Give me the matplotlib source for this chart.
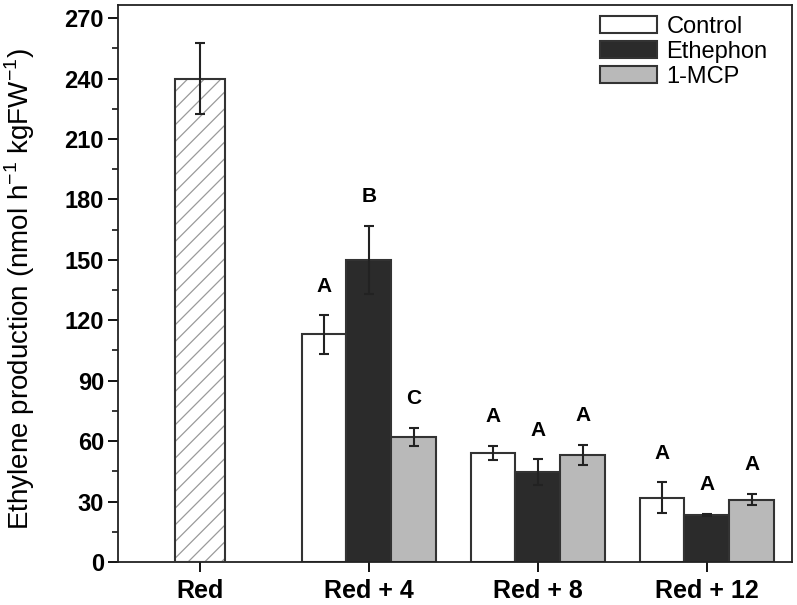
import numpy as np
import matplotlib
matplotlib.use('Agg')
import matplotlib.pyplot as plt
from matplotlib.ticker import MultipleLocator

plt.rcParams['font.family'] = ['Liberation Sans', 'DejaVu Sans']
plt.rcParams['mathtext.fontset'] = 'custom'
plt.rcParams['mathtext.rm'] = 'Liberation Sans'
plt.rcParams['hatch.linewidth'] = 0.9

#datos
categories = ['Red', 'Red + 4', 'Red + 8', 'Red + 12']
treatments = ['Control', 'Ethephon', '1-MCP']

red_value = 240
red_err = 17.5

control = [113, 54, 32]
control_err = [9.5, 3.5, 7.5]
ethephon = [150, 44.5, 23.4]
ethephon_err = [17, 6.5, 0.5]
mcp = [62, 53, 31]
mcp_err = [4.5, 5, 2.7]

letters = [['A', 'A', 'A'], ['B', 'A', 'A'], ['C', 'A', 'A']]

colors = ['white', '#2b2b2b', '#b9b9b9']
edge = '#333333'

fig = plt.figure(figsize=(7.97, 6.05), dpi=100)
ax = fig.add_axes([0.148, 0.0711, 0.8457, 0.9206])

x = np.arange(len(categories))
w = 0.266

#barra Red con rayado
ax.bar(x[0], red_value, width=0.296, color='white', edgecolor='#9a9a9a', linewidth=0,
       hatch='//', zorder=2)
ax.bar(x[0], red_value, width=0.296, color='none', edgecolor=edge, linewidth=1.5, zorder=3)
ax.errorbar(x[0], red_value, yerr=red_err, fmt='none', ecolor='#222222', elinewidth=1.5,
            capsize=3.5, capthick=1.5, zorder=4)

series = [control, ethephon, mcp]
errors = [control_err, ethephon_err, mcp_err]
gx = x[1:]
for i, (vals, errs) in enumerate(zip(series, errors)):
    pos = gx + (i - 1) * w
    ax.bar(pos, vals, width=w, color=colors[i], edgecolor=edge, linewidth=1.5,
           label=treatments[i], zorder=2)
    ax.errorbar(pos, vals, yerr=errs, fmt='none', ecolor='#222222', elinewidth=1.5,
                capsize=3.5, capthick=1.5, zorder=4)
    for p, v, e, t in zip(pos, vals, errs, letters[i]):
        ax.text(p, v + e + 14.5, t, ha='center', va='center', fontsize=15,
                fontweight='bold', zorder=5)

ax.set_xlim(-0.485, 3.503)
ax.set_ylim(0, 276.5)
ax.yaxis.set_major_locator(MultipleLocator(30))
ax.yaxis.set_minor_locator(MultipleLocator(15))
ax.set_xticks(x)
ax.set_xticklabels(categories, fontsize=18, fontweight='bold')
for lab in ax.get_yticklabels():
    lab.set_fontweight('bold')
    lab.set_fontsize(17)
ax.tick_params(axis='y', which='major', direction='out', length=7, width=1.3, pad=3)
ax.tick_params(axis='y', which='minor', direction='out', length=4, width=1.1)
ax.tick_params(axis='x', which='major', direction='out', length=7, width=1.3, pad=5)

for s in ax.spines.values():
    s.set_linewidth(1.3)
    s.set_color('#222222')

ax.set_ylabel(r'Ethylene production (nmol h$^{-1}$ kgFW$^{-1}$)', fontsize=20)
ax.yaxis.set_label_coords(-0.12, 0.49)

ax.legend(loc='upper right', frameon=False, fontsize=17, handlelength=2.4,
          handleheight=0.75, handletextpad=0.4, labelspacing=0.12,
          bbox_to_anchor=(0.99, 1.012), borderaxespad=0.35)

fig.savefig('out.png', dpi=100)
